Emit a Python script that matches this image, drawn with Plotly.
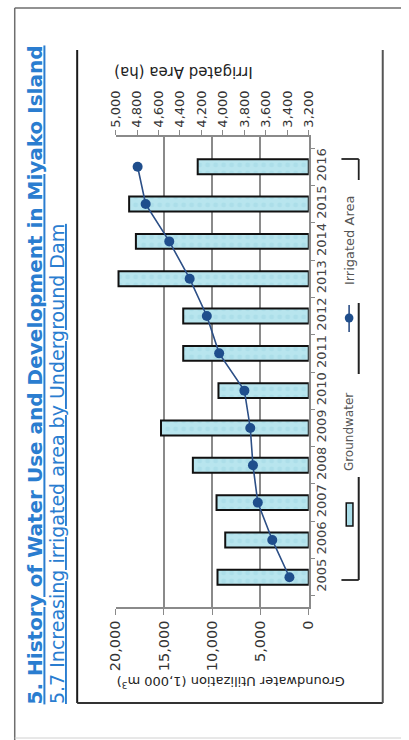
import plotly.graph_objects as go

# Data
years = ["2005", "2006", "2007", "2008", "2009", "2010",
         "2011", "2012", "2013", "2014", "2015", "2016"]
groundwater = [9450, 8650, 9550, 12000, 15300, 9350,
               13000, 13000, 19700, 17900, 18600, 11500]          # 1,000 m3
irrigated_area = [3380, 3540, 3675, 3720, 3745, 3800,
                  4035, 4150, 4310, 4500, 4720, 4795]              # ha

gw_ticks = [0, 5000, 10000, 15000, 20000]
ia_ticks = list(range(3200, 5001, 200))

W, H = 409, 740


def px(x):
    return x / W


def py(y):
    return 1 - y / H


TITLE_BLUE = "#2a7dd0"
AXIS_GRAY = "#8a8a8a"
LABEL_FONT = "DejaVu Sans"

fig = go.Figure()

fig.add_trace(go.Bar(
    y=years, x=groundwater, orientation="h", name="Groundwater",
    xaxis="x", yaxis="y", width=0.4,
    marker=dict(
        color="#b4e3ed",
        line=dict(color="#111111", width=2),
        pattern=dict(shape=".", fgcolor="#9fd7e3", bgcolor="#b8e5ee",
                     size=8, solidity=0.3),
    ),
    showlegend=False,
))

fig.add_trace(go.Scatter(
    y=years, x=irrigated_area, name="Irrigated Area",
    xaxis="x2", yaxis="y", mode="lines+markers",
    line=dict(color="#2c4f86", width=1.6),
    marker=dict(size=10, color="#1f4e8c"),
    showlegend=False,
))

shapes = []


def seg(x0, y0, x1, y1, color, width):
    shapes.append(dict(type="line", xref="paper", yref="paper",
                       x0=px(x0), y0=py(y0), x1=px(x1), y1=py(y1),
                       line=dict(color=color, width=width)))


# slide border
seg(7, 8, 409, 8, "#6e6e6e", 1.5)
seg(7, 8, 7, 740, "#6e6e6e", 1.5)
seg(7, 738, 409, 738, "#d0d0d0", 1)
# chart box
seg(72, 50, 72, 703, "#1a1a1a", 2)
seg(72, 703, 390, 703, "#333333", 2)
seg(390, 50, 390, 703, "#555555", 2)

# legend frame pieces
seg(347, 159, 365, 159, "#222222", 1.8)
seg(365, 159, 365, 180, "#222222", 1.8)
seg(365, 303, 365, 374, "#222222", 2)
seg(365, 477, 365, 580, "#222222", 2)
seg(347, 580, 365, 580, "#222222", 1.8)
# legend symbols
seg(355, 305, 355, 332, "#2c4f86", 1.6)
shapes.append(dict(type="circle", xref="paper", yref="paper",
                   x0=px(350.5), x1=px(359.5), y0=py(313.5), y1=py(322.5),
                   fillcolor="#1f4e8c", line=dict(color="#1f4e8c", width=0)))
shapes.append(dict(type="rect", xref="paper", yref="paper",
                   x0=px(352), x1=px(359), y0=py(503), y1=py(526),
                   fillcolor="#a9dde8", line=dict(color="#111111", width=1.5)))

annotations = [
    dict(text="<b><u>5. History of Water Use and Development in Miyako Island</u></b>",
         x=px(28), y=py(706), xref="paper", yref="paper", textangle=-90,
         xanchor="center", yanchor="bottom", showarrow=False,
         font=dict(family="DejaVu Sans", size=20, color=TITLE_BLUE)),
    dict(text="<u>5.7 Increasing irrigated area by Underground Dam</u>",
         x=px(51), y=py(706), xref="paper", yref="paper", textangle=-90,
         xanchor="center", yanchor="bottom", showarrow=False,
         font=dict(family="DejaVu Sans", size=19, color=TITLE_BLUE)),
    dict(text="Groundwater Utilization (1,000 m<sup>3</sup>)",
         x=px(232), y=py(682), xref="paper", yref="paper", textangle=180,
         xanchor="center", yanchor="middle", showarrow=False,
         font=dict(family=LABEL_FONT, size=13, color="#222222")),
    dict(text="Irrigated Area (ha)",
         x=px(183), y=py(72), xref="paper", yref="paper", textangle=180,
         xanchor="center", yanchor="middle", showarrow=False,
         font=dict(family=LABEL_FONT, size=15, color="#222222")),
    dict(text="Irrigated Area",
         x=px(355), y=py(240), xref="paper", yref="paper", textangle=-90,
         xanchor="center", yanchor="middle", showarrow=False,
         font=dict(family=LABEL_FONT, size=13, color="#555555")),
    dict(text="Groundwater",
         x=px(355), y=py(432), xref="paper", yref="paper", textangle=-90,
         xanchor="center", yanchor="middle", showarrow=False,
         font=dict(family=LABEL_FONT, size=12, color="#555555")),
]

fig.update_layout(
    width=W, height=H,
    margin=dict(l=0, r=0, t=0, b=0),
    paper_bgcolor="white", plot_bgcolor="white",
    showlegend=False,
    xaxis=dict(
        domain=[px(112), px(313)], anchor="y", side="bottom",
        range=[20000, 0], tickvals=gw_ticks,
        ticktext=[f"{v:,}" for v in gw_ticks], tickangle=-90,
        showgrid=True, gridcolor=AXIS_GRAY, gridwidth=1.5,
        zeroline=False, showline=True, linecolor=AXIS_GRAY, linewidth=1.5,
        ticks="outside", ticklen=6, tickcolor=AXIS_GRAY,
        tickfont=dict(family=LABEL_FONT, size=14.5, color="#333333"),
    ),
    xaxis2=dict(
        overlaying="x", anchor="y", side="top",
        range=[5000, 3200], tickvals=ia_ticks,
        ticktext=[f"{v:,}" for v in ia_ticks], tickangle=-90,
        showgrid=False, zeroline=False, showline=True,
        linecolor=AXIS_GRAY, linewidth=1.5,
        ticks="outside", ticklen=5, tickcolor=AXIS_GRAY,
        tickfont=dict(family=LABEL_FONT, size=13, color="#333333"),
    ),
    yaxis=dict(
        domain=[py(607), py(137)], anchor="x", side="right",
        type="category", categoryorder="array", categoryarray=years,
        tickangle=-90, showgrid=False, zeroline=False,
        showline=True, linecolor=AXIS_GRAY, linewidth=1.5,
        ticks="outside", tickson="boundaries", ticklen=4, tickcolor=AXIS_GRAY,
        tickfont=dict(family=LABEL_FONT, size=13, color="#444444"),
    ),
    shapes=shapes,
    annotations=annotations,
)

fig.write_html("out.html")
